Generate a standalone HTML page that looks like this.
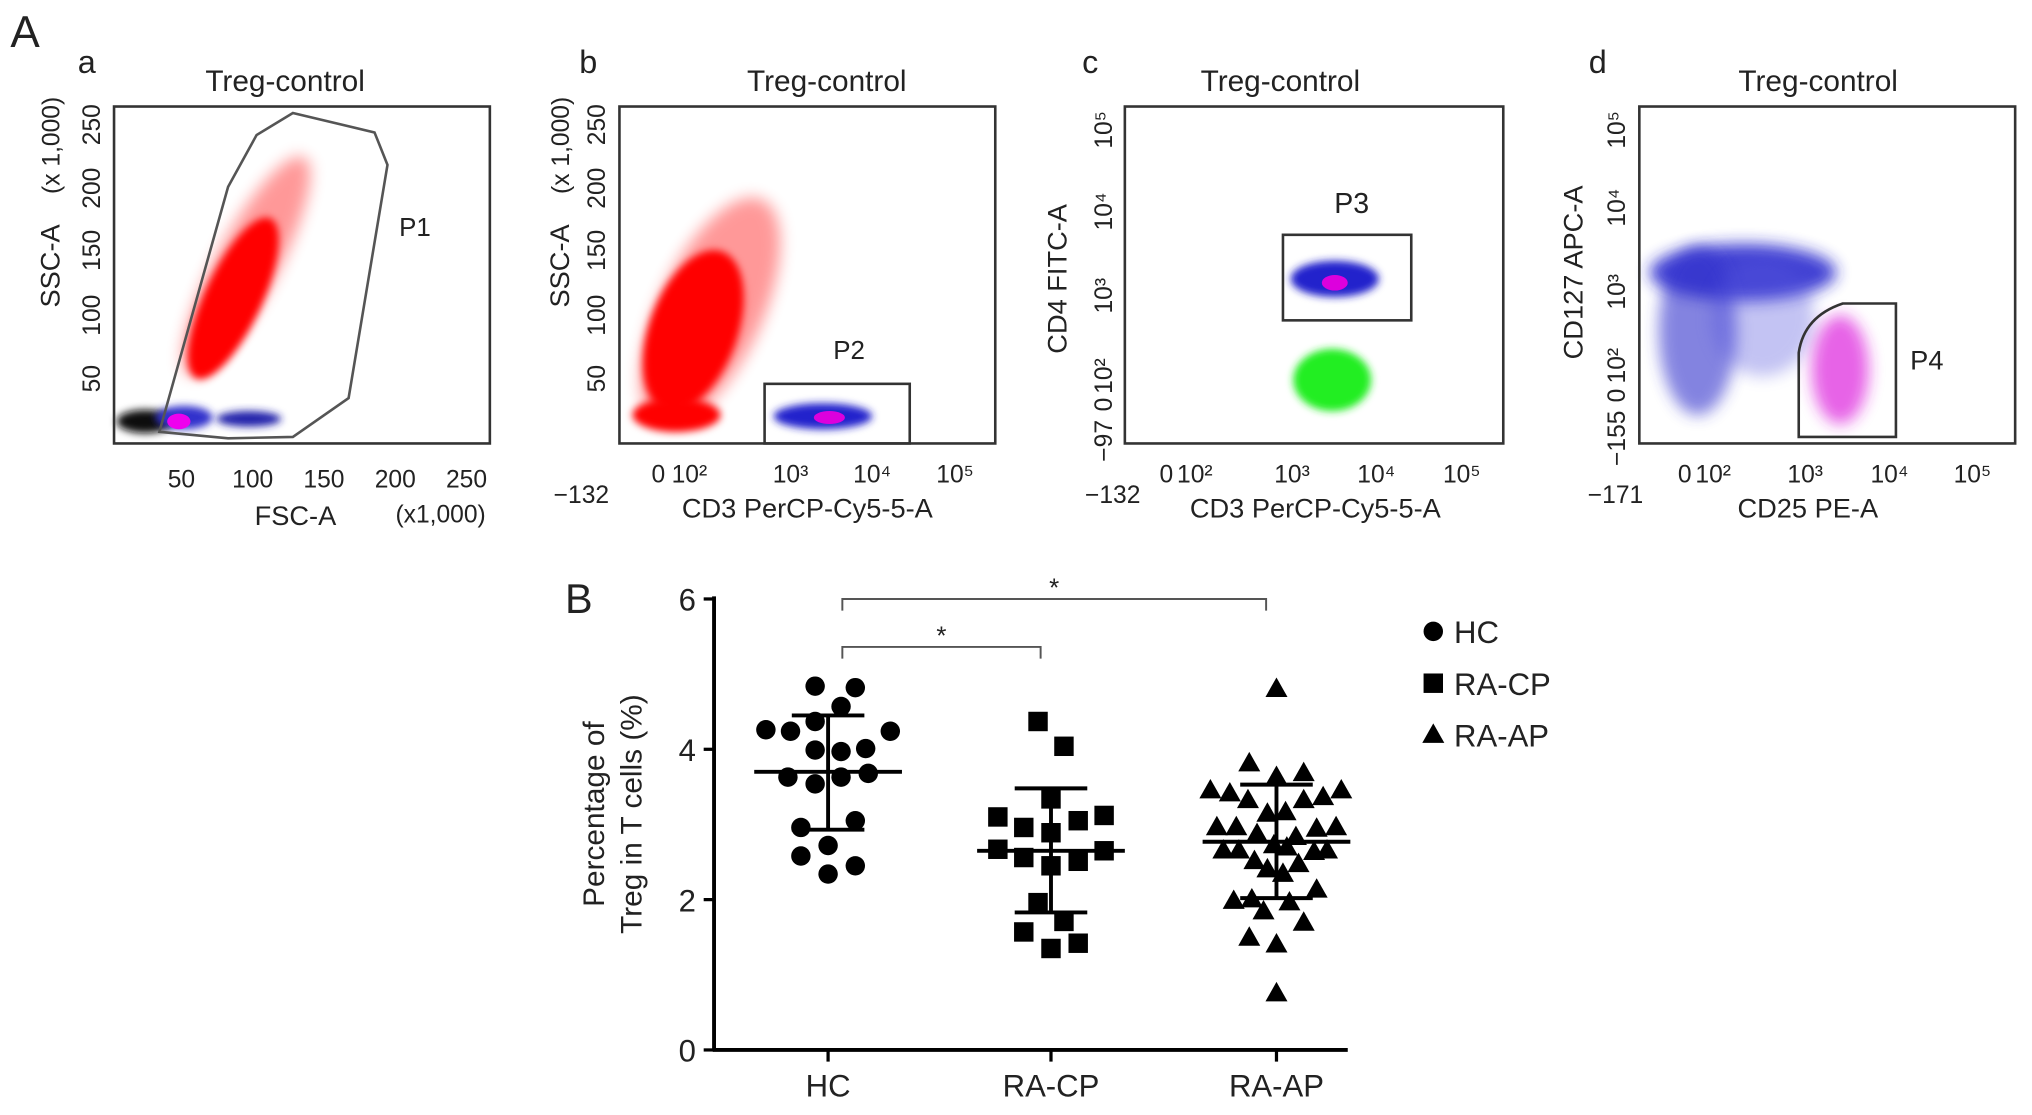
<!DOCTYPE html>
<html><head><meta charset="utf-8"><style>
html,body{margin:0;padding:0;background:#fff;}
svg{display:block;}
text{font-family:"Liberation Sans",sans-serif;fill:#222;}
</style></head><body>
<svg id="fig" width="2032" height="1115" viewBox="0 0 1568 860" xmlns="http://www.w3.org/2000/svg">
<defs>
<filter id="blur" x="-50%" y="-50%" width="200%" height="200%"><feGaussianBlur stdDeviation="6"/></filter>
<filter id="blur2" x="-50%" y="-50%" width="200%" height="200%"><feGaussianBlur stdDeviation="3"/></filter>
</defs>
<text x="8" y="36" font-size="34">A</text>

<!-- Panel a -->
<g>
<text x="60" y="56" font-size="25">a</text>
<text x="220" y="70" font-size="23" text-anchor="middle">Treg-control</text>
<ellipse cx="190" cy="205" rx="95" ry="24" fill="#f00" opacity="0.4" transform="rotate(-62 190 205)" filter="url(#blur)"/>
<ellipse cx="180" cy="230" rx="68" ry="22" fill="#f00" transform="rotate(-65 180 230)" filter="url(#blur2)"/>
<ellipse cx="112" cy="325" rx="22" ry="9" fill="#111" filter="url(#blur2)"/>
<ellipse cx="142" cy="322" rx="22" ry="9" fill="#33c" filter="url(#blur2)"/>
<ellipse cx="192" cy="323" rx="25" ry="6" fill="#22a" filter="url(#blur2)"/>
<ellipse cx="138" cy="325" rx="9" ry="6" fill="#e0e"/>
<rect x="88" y="82" width="290" height="260" fill="none" stroke="#333" stroke-width="2"/>
<polygon points="123,333 176,144 198,104 226,87 289,102 299,127 269,307 226,337 176,338" fill="none" stroke="#555" stroke-width="2"/>
<text x="308" y="182" font-size="20">P1</text>
<g font-size="19" fill="#333">
<text x="140" y="376" text-anchor="middle">50</text><text x="195" y="376" text-anchor="middle">100</text><text x="250" y="376" text-anchor="middle">150</text><text x="305" y="376" text-anchor="middle">200</text><text x="360" y="376" text-anchor="middle">250</text>
<text transform="translate(77,96) rotate(-90)" text-anchor="middle">250</text><text transform="translate(77,145) rotate(-90)" text-anchor="middle">200</text><text transform="translate(77,193) rotate(-90)" text-anchor="middle">150</text><text transform="translate(77,243) rotate(-90)" text-anchor="middle">100</text><text transform="translate(77,292) rotate(-90)" text-anchor="middle">50</text>
</g>
<text x="228" y="405" font-size="21" text-anchor="middle">FSC-A</text>
<text x="340" y="403" font-size="19" text-anchor="middle">(x1,000)</text>
<text transform="translate(46,205) rotate(-90)" font-size="21" text-anchor="middle">SSC-A</text>
<text transform="translate(46,112) rotate(-90)" font-size="19" text-anchor="middle">(x 1,000)</text>
</g>

<!-- Panel b -->
<g>
<text x="447" y="56" font-size="25">b</text>
<text x="638" y="70" font-size="23" text-anchor="middle">Treg-control</text>
<ellipse cx="548" cy="240" rx="95" ry="40" fill="#f00" opacity="0.4" transform="rotate(-65 548 240)" filter="url(#blur)"/>
<ellipse cx="535" cy="255" rx="65" ry="34" fill="#f00" transform="rotate(-70 535 255)" filter="url(#blur2)"/>
<ellipse cx="522" cy="320" rx="34" ry="13" fill="#f00" filter="url(#blur2)"/>
<ellipse cx="635" cy="321" rx="38" ry="10" fill="#22c" filter="url(#blur2)"/>
<ellipse cx="640" cy="322" rx="12" ry="5" fill="#d0d"/>
<rect x="478" y="82" width="290" height="260" fill="none" stroke="#333" stroke-width="2"/>
<rect x="590" y="296" width="112" height="46" fill="none" stroke="#333" stroke-width="2"/>
<text x="643" y="277" font-size="20">P2</text>
<g font-size="19" fill="#333">
<text x="470" y="388" text-anchor="end">−132</text><text x="508" y="372" text-anchor="middle">0</text><text x="532" y="372" text-anchor="middle">10²</text><text x="610" y="372" text-anchor="middle">10³</text><text x="673" y="372" text-anchor="middle">10⁴</text><text x="737" y="372" text-anchor="middle">10⁵</text>
<text transform="translate(467,96) rotate(-90)" text-anchor="middle">250</text><text transform="translate(467,145) rotate(-90)" text-anchor="middle">200</text><text transform="translate(467,193) rotate(-90)" text-anchor="middle">150</text><text transform="translate(467,243) rotate(-90)" text-anchor="middle">100</text><text transform="translate(467,292) rotate(-90)" text-anchor="middle">50</text>
</g>
<text x="623" y="399" font-size="21" text-anchor="middle">CD3 PerCP-Cy5-5-A</text>
<text transform="translate(439,205) rotate(-90)" font-size="21" text-anchor="middle">SSC-A</text>
<text transform="translate(439,112) rotate(-90)" font-size="19" text-anchor="middle">(x 1,000)</text>
</g>

<!-- Panel c -->
<g>
<text x="835" y="56" font-size="25">c</text>
<text x="988" y="70" font-size="23" text-anchor="middle">Treg-control</text>
<ellipse cx="1030" cy="215" rx="34" ry="14" fill="#22c" filter="url(#blur2)"/>
<ellipse cx="1030" cy="218" rx="10" ry="6" fill="#d0d"/>
<ellipse cx="1028" cy="293" rx="30" ry="24" fill="#2e2" filter="url(#blur2)"/>
<rect x="868" y="82" width="292" height="260" fill="none" stroke="#333" stroke-width="2"/>
<rect x="990" y="181" width="99" height="66" fill="none" stroke="#333" stroke-width="2"/>
<text x="1043" y="164" font-size="22" text-anchor="middle">P3</text>
<g font-size="19" fill="#333">
<text x="880" y="388" text-anchor="end">−132</text><text x="900" y="372" text-anchor="middle">0</text><text x="922" y="372" text-anchor="middle">10²</text><text x="997" y="372" text-anchor="middle">10³</text><text x="1062" y="372" text-anchor="middle">10⁴</text><text x="1128" y="372" text-anchor="middle">10⁵</text>
<text transform="translate(858,100) rotate(-90)" text-anchor="middle">10⁵</text><text transform="translate(858,163) rotate(-90)" text-anchor="middle">10⁴</text><text transform="translate(858,228) rotate(-90)" text-anchor="middle">10³</text><text transform="translate(858,290) rotate(-90)" text-anchor="middle">10²</text><text transform="translate(858,312) rotate(-90)" text-anchor="middle">0</text><text transform="translate(858,340) rotate(-90)" text-anchor="middle">−97</text>
</g>
<text x="1015" y="399" font-size="21" text-anchor="middle">CD3 PerCP-Cy5-5-A</text>
<text transform="translate(823,215) rotate(-90)" font-size="21" text-anchor="middle">CD4 FITC-A</text>
</g>

<!-- Panel d -->
<g>
<text x="1226" y="56" font-size="25">d</text>
<text x="1403" y="70" font-size="23" text-anchor="middle">Treg-control</text>
<ellipse cx="1345" cy="210" rx="72" ry="22" fill="#22c" opacity="0.85" filter="url(#blur)"/>
<ellipse cx="1310" cy="255" rx="30" ry="65" fill="#33c" opacity="0.6" filter="url(#blur)"/>
<ellipse cx="1360" cy="245" rx="40" ry="45" fill="#55d" opacity="0.35" filter="url(#blur)"/>
<ellipse cx="1420" cy="285" rx="22" ry="42" fill="#d2d" opacity="0.7" filter="url(#blur)"/>
<rect x="1265" y="82" width="290" height="260" fill="none" stroke="#333" stroke-width="2"/>
<path d="M1388,337 L1388,272 Q1392,244 1422,234 L1463,234 L1463,337 Z" fill="none" stroke="#333" stroke-width="2"/>
<text x="1474" y="285" font-size="21">P4</text>
<g font-size="19" fill="#333">
<text x="1268" y="388" text-anchor="end">−171</text><text x="1300" y="372" text-anchor="middle">0</text><text x="1322" y="372" text-anchor="middle">10²</text><text x="1393" y="372" text-anchor="middle">10³</text><text x="1458" y="372" text-anchor="middle">10⁴</text><text x="1522" y="372" text-anchor="middle">10⁵</text>
<text transform="translate(1254,100) rotate(-90)" text-anchor="middle">10⁵</text><text transform="translate(1254,160) rotate(-90)" text-anchor="middle">10⁴</text><text transform="translate(1254,225) rotate(-90)" text-anchor="middle">10³</text><text transform="translate(1254,282) rotate(-90)" text-anchor="middle">10²</text><text transform="translate(1254,305) rotate(-90)" text-anchor="middle">0</text><text transform="translate(1254,338) rotate(-90)" text-anchor="middle">−155</text>
</g>
<text x="1395" y="399" font-size="21" text-anchor="middle">CD25 PE-A</text>
<text transform="translate(1221,210) rotate(-90)" font-size="21" text-anchor="middle">CD127 APC-A</text>
</g>

<!-- Panel B -->
<text x="436" y="473" font-size="32">B</text>
<g id="chartB"></g>
</svg>
<script>
const categories = ['HC', 'RA-CP', 'RA-AP'];
const yTicks = [0, 2, 4, 6];
const hcValues = [4.84, 4.82, 4.57, 4.37, 4.26, 4.24, 4.24, 3.99, 3.97, 4.01, 3.63, 3.63, 3.68, 3.54, 2.96, 3.05, 2.72, 2.58, 2.45, 2.34];
const hcOffsets = [-10, 21, 10, -10, -48, -29, 48, -10, 10, 29, -31, 10, 31, -10, -21, 21, 0, -21, 21, 0];
const cpValues = [4.37, 4.04, 3.34, 3.10, 2.96, 3.05, 3.12, 2.89, 2.67, 2.56, 2.65, 2.51, 2.45, 1.96, 1.71, 1.57, 1.42, 1.35];
const cpOffsets = [-10, 10, 0, -41, -21, 21, 41, 0, -41, -21, 41, 21, 0, -10, 10, -21, 21, 0];
const apValues = [4.80, 3.81, 3.63, 3.68, 3.45, 3.41, 3.45, 3.32, 3.32, 3.36, 3.14, 3.16, 2.96, 2.96, 2.87, 2.94, 2.96, 2.83, 2.65, 2.65, 2.72, 2.69, 2.63, 2.65, 2.51, 2.47, 2.40, 2.34, 2.13, 1.98, 2.00, 1.96, 1.84, 1.69, 1.49, 1.40, 0.75];
const apOffsets = [0, -21, 0, 21, -51, -36, 50, -22, 21, 36, -7, 7, -46, -31, -15, 31, 46, 15, -41, -29, -2, 8, 29, 39, -17, 17, -7, 5, 31, -33, -19, 10, -10, 21, -21, 0, 0];
const meanVals = [3.70, 2.65, 2.77];
const sdHigh = [4.45, 3.48, 3.53];
const sdLow = [2.93, 1.83, 2.02];

const NS = 'http://www.w3.org/2000/svg';
const g = document.getElementById('chartB');
const X0 = 551, X1 = 1040, Y0 = 810, Ytop = 462;
const catX = [639, 811, 985];
function xPos(i) { return catX[i]; }
function yPos(v) { return Y0 - (v / 6) * (Y0 - Ytop); }
function mk(tag, attrs) { const e = document.createElementNS(NS, tag); for (const k in attrs) e.setAttribute(k, attrs[k]); g.appendChild(e); return e; }

let e = mk('line', {x1: X0, y1: Ytop - 2, x2: X0, y2: Y0 + 1, stroke: '#000', 'stroke-width': 3});


e = mk('line', {x1: X0 - 1, y1: Y0, x2: X1, y2: Y0, stroke: '#000', 'stroke-width': 3});


yTicks.forEach(t => {
  const tk = mk('line', {x1: X0 - 8, y1: yPos(t), x2: X0, y2: yPos(t), stroke: '#000', 'stroke-width': 2.5});
  
  
  const tl = mk('text', {x: X0 - 14, y: yPos(t) + 9, 'font-size': 24, 'text-anchor': 'end'});
  tl.textContent = t;
  
  
});
categories.forEach((c, i) => {
  const tk = mk('line', {x1: xPos(i), y1: Y0, x2: xPos(i), y2: Y0 + 9, stroke: '#000', 'stroke-width': 2.5});
  
  
  const tl = mk('text', {x: xPos(i), y: Y0 + 36, 'font-size': 24, 'text-anchor': 'middle'});
  tl.textContent = c;
  
  
});
let t1 = mk('text', {transform: 'translate(466,628) rotate(-90)', 'font-size': 23, 'text-anchor': 'middle'});
t1.textContent = 'Percentage of';


let t2 = mk('text', {transform: 'translate(495,628) rotate(-90)', 'font-size': 23, 'text-anchor': 'middle'});
t2.textContent = 'Treg in T cells (%)';



function drawPoint(shape, cx, cy) {
  let p;
  if (shape === 0) p = mk('circle', {cx: cx, cy: cy, r: 7.5, fill: '#000'});
  else if (shape === 1) p = mk('rect', {x: cx - 7.5, y: cy - 7.5, width: 15, height: 15, fill: '#000'});
  else p = mk('polygon', {points: `${cx},${cy - 9} ${cx - 8.5},${cy + 6} ${cx + 8.5},${cy + 6}`, fill: '#000'});
  return p;
}
const seriesVals = [hcValues, cpValues, apValues];
const seriesOff = [hcOffsets, cpOffsets, apOffsets];
seriesVals.forEach((vals, i) => {
  vals.forEach((v, j) => {
    const p = drawPoint(i, xPos(i) + seriesOff[i][j], yPos(v));
    
    
  });
});
meanVals.forEach((m, i) => {
  const cx = xPos(i);
  const l1 = mk('line', {x1: cx - 57, y1: yPos(m), x2: cx + 57, y2: yPos(m), stroke: '#000', 'stroke-width': 3});
  
  
  const l2 = mk('line', {x1: cx, y1: yPos(sdHigh[i]), x2: cx, y2: yPos(sdLow[i]), stroke: '#000', 'stroke-width': 3});
  
  
  [sdHigh[i], sdLow[i]].forEach(s => {
    const cap = mk('line', {x1: cx - 28, y1: yPos(s), x2: cx + 28, y2: yPos(s), stroke: '#000', 'stroke-width': 3});
    
    
  });
});
function bracket(a, b, y, label) {
  const xa = xPos(a) + 11, xb = xPos(b) - 8;
  const pth = mk('path', {d: `M${xa},${y + 9} L${xa},${y} L${xb},${y} L${xb},${y + 9}`, fill: 'none', stroke: '#555', 'stroke-width': 1.5});
  
  
  const st = mk('text', {x: (xa + xb) / 2, y: y - 2, 'font-size': 20, 'text-anchor': 'middle', fill: '#444'});
  st.textContent = label;
  
  
}
bracket(0, 2, 462, '*');
bracket(0, 1, 499, '*');
categories.forEach((c, i) => {
  const ly = 487 + i * 40;
  const m = drawPoint(i, 1106, ly);
  
  
  const lt = mk('text', {x: 1122, y: ly + 9, 'font-size': 24});
  lt.textContent = c;
  
  
});
</script>
</body></html>
